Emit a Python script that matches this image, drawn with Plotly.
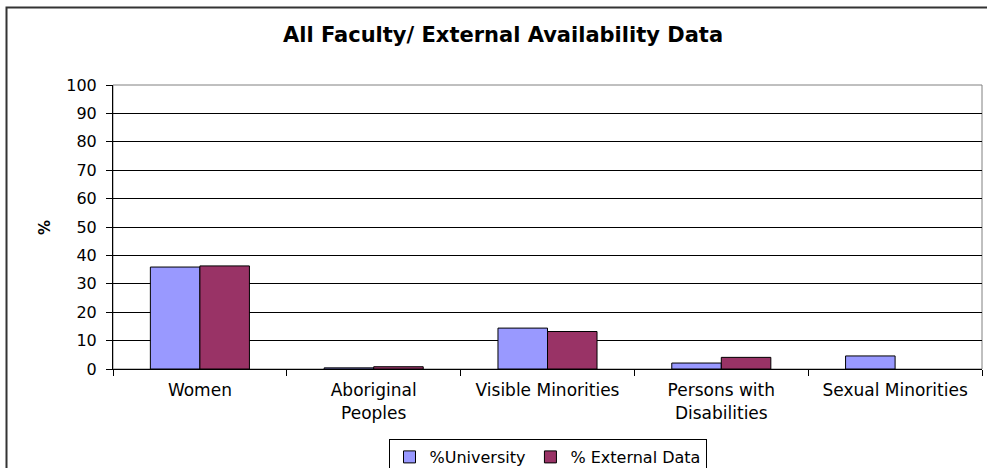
"""All Faculty / External Availability bar chart."""

import plotly.graph_objects as go

categories = [
    "Women",
    "Aboriginal<br>Peoples",
    "Visible Minorities",
    "Persons with<br>Disabilities",
    "Sexual Minorities",
]
university_pct = [35.9, 0.4, 14.4, 2.1, 4.6]
external_pct = [36.3, 0.8, 13.2, 4.1, None]
y_ticks = list(range(0, 101, 10))

FONT = "DejaVu Sans"

W, H = 987, 468
L, R, T, B = 113, 5, 85, 99
PW, PH = W - L - R, H - T - B

fig = go.Figure()
fig.add_trace(
    go.Bar(
        name="%University",
        x=categories,
        y=university_pct,
        marker=dict(color="#9999FF", line=dict(color="black", width=1)),
    )
)
fig.add_trace(
    go.Bar(
        name="% External Data",
        x=categories,
        y=external_pct,
        marker=dict(color="#993366", line=dict(color="black", width=1)),
    )
)

fig.update_layout(
    width=W,
    height=H,
    margin=dict(l=L, r=R, t=T, b=B, autoexpand=False),
    paper_bgcolor="white",
    plot_bgcolor="white",
    barmode="group",
    bargap=0.43,
    bargroupgap=0,
    font=dict(family=FONT, color="black"),
    title=dict(
        text="<b>All Faculty/ External Availability Data</b>",
        x=503 / W,
        xanchor="center",
        y=1 - 35 / H,
        yanchor="middle",
        font=dict(family=FONT, size=21, color="black"),
    ),
    legend=dict(
        orientation="h",
        x=0.5,
        xanchor="center",
        y=-70 / PH,
        yanchor="top",
        bordercolor="black",
        borderwidth=1,
        font=dict(family=FONT, size=16),
        itemwidth=30,
        tracegroupgap=0,
    ),
    showlegend=True,
)

fig.update_xaxes(
    showline=True,
    linecolor="black",
    linewidth=1,
    ticks="outside",
    tickson="boundaries",
    ticklen=6,
    tickcolor="black",
    tickfont=dict(family=FONT, size=17),
    ticklabelstandoff=6,
    showgrid=False,
)
fig.update_yaxes(
    range=[0, 100],
    tickvals=y_ticks,
    showline=True,
    linecolor="black",
    linewidth=1,
    ticks="outside",
    ticklen=6,
    tickcolor="black",
    tickfont=dict(family=FONT, size=16),
    ticklabelstandoff=6,
    showgrid=True,
    gridcolor="black",
    gridwidth=1,
    zeroline=False,
)

# plot area border (grey) and outer chart frame
fig.add_shape(
    type="rect", xref="paper", yref="paper", x0=0, x1=1, y0=0, y1=1,
    line=dict(color="#808080", width=1), layer="below",
)
fig.add_shape(
    type="rect", xref="paper", yref="paper",
    x0=(6.5 - L) / PW, x1=(W + 10 - L) / PW,
    y0=-(B + 10) / PH, y1=1 + (T - 7.5) / PH,
    line=dict(color="#333333", width=2),
)

fig.add_annotation(
    text="<b>%</b>",
    xref="paper", yref="paper",
    x=-79 / PW, y=141 / PH,
    showarrow=False, textangle=-90,
    font=dict(family=FONT, size=15, color="black"),
)

# drop the default body margin so the figure fills the window exactly
fig.write_html(
    "out.html",
    config={"displayModeBar": False},
    post_script="document.body.style.margin='0';document.body.style.overflow='hidden';",
)
